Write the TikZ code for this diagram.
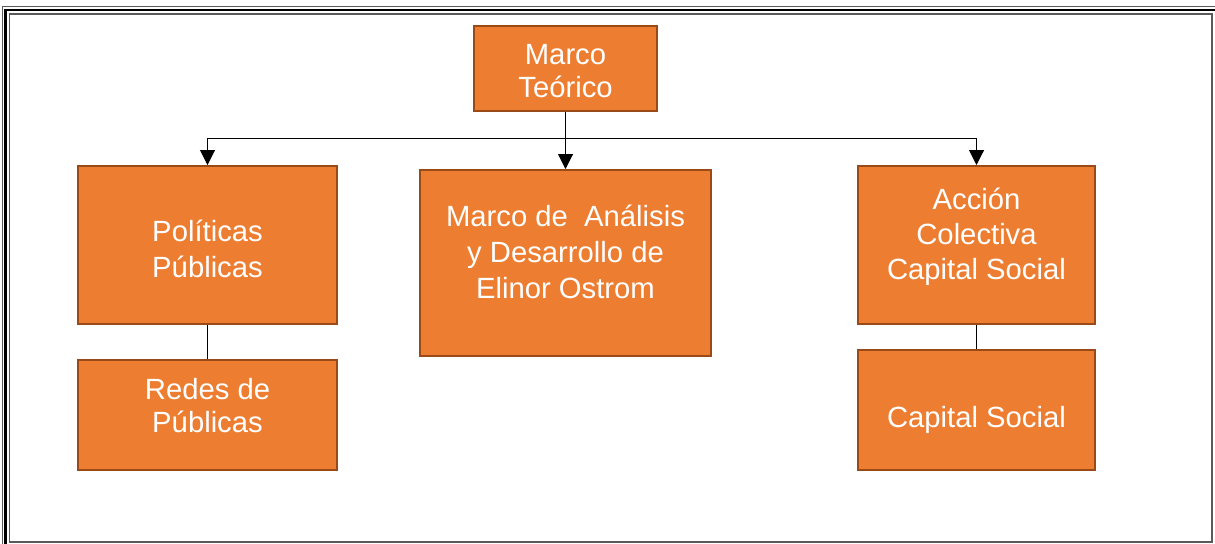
\documentclass[tikz,border=0pt]{standalone}
\usepackage{fontspec}
\setmainfont{Liberation Sans}
\usetikzlibrary{arrows.meta}
\definecolor{boxOrange}{HTML}{ED7D31}
\definecolor{boxEdge}{HTML}{9A4A17}
\definecolor{frameGray}{HTML}{5A5A5A}

\begin{document}
\begin{tikzpicture}
[boxDecorate/.style={shape=rectangle,draw=boxEdge,fill=boxOrange,line width=1.4pt,inner sep=0pt},%
  textDecorate/.style={text=white,align=center,inner sep=0pt},%
  lineDecorate/.style={-,line width=0.7pt},%
  arrowDecorate/.style={-{Triangle[width=0.375cm,length=0.375cm]},line width=0.7pt}]
\useasboundingbox (0,0) rectangle (30.375,-13.6);
%% page frame
\draw[frameGray,line width=0.6pt] (0.0625,-13.6) |- (30.375,-0.1625);
\draw[black,line width=1.6pt] (0.1375,-13.6) |- (30.375,-0.25);
\draw[frameGray,line width=1.3pt] (0.2375,-0.35) rectangle (30.3,-13.55);
%% boxes
\foreach \nodename/\x/\y/\w/\h/\dy/\ls/\txt in {%
  teorico/14.1375/-1.7125/4.575/2.125/-0.075/23.5/{Marco\\Teórico},
  politicas/5.1875/-6.125/6.475/3.95/-0.1/25.5/{Políticas\\Públicas},
  ostrom/14.1375/-6.575/7.275/4.65/0.275/25.8/{Marco de~ Análisis\\y Desarrollo de\\Elinor Ostrom},
  accion/24.4125/-6.125/5.925/3.95/0.2/24.8/{Acción\\Colectiva\\Capital Social},
  redes/5.1875/-10.375/6.475/2.75/0.24/23.5/{Redes de\\Públicas},
  capital/24.4125/-10.25/5.925/3.0/-0.25/23.5/{Capital Social}}
{
  \node (\nodename) at (\x,\y) [boxDecorate,minimum width=\w cm,minimum height=\h cm] {};
  \node (\nodename-txt) at (\nodename.center) [textDecorate,yshift=\dy cm,
    font=\fontsize{20.8}{\ls}\selectfont] {\txt};
}
%% connectors
\coordinate (bus) at (teorico.south |- 0,-3.45);
\draw[arrowDecorate] (teorico) -- (ostrom);
\draw[arrowDecorate] (bus) -| (politicas.north);
\draw[arrowDecorate] (bus) -| (accion.north);
\draw[lineDecorate] (politicas) -- (redes);
\draw[lineDecorate] (accion) -- (capital);
\end{tikzpicture}
\end{document}
